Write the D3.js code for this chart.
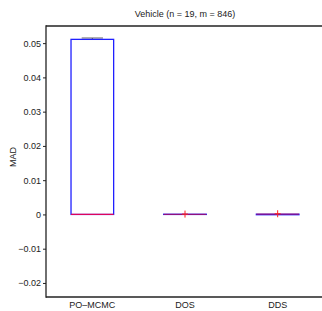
<!DOCTYPE html>
<head>
	<meta charset="utf-8">
	<title>Vehicle MAD</title>
	<style>
		body { margin: 0; background: #fff; }
		text { font-family: "Liberation Sans Narrow", "Liberation Sans", Arial, sans-serif; font-size: 9px; fill: #222; }
		.axis path, .axis line { stroke: #222; }
	</style>
</head>
<body>
<script src="https://d3js.org/d3.v7.min.js"></script>
<script>

// data
var categories = ["PO\u2013MCMC", "DOS", "DDS"];
var q1 = [0, 0, -0.00008];
var medians = [0, 0.00003, 0.00008];
var q3 = [0.0511, 0.00006, 0.00008];
var whiskerHigh = [0.0515, 0.00006, 0.00008];
var outliers = [[], [0.0001], [0.0002]];
var yTicks = [-0.02, -0.01, 0, 0.01, 0.02, 0.03, 0.04, 0.05];

var width = 322, height = 311;
var margin = {left: 46, top: 26, right: -2, bottom: 14};

var svg = d3.select("body").append("svg")
	.attr("width", width)
	.attr("height", height);

var x = d3.scaleLinear().domain([0.5, 3.5]).range([margin.left, width - margin.right]);
var y = d3.scaleLinear().domain([-0.0241, 0.055]).range([height - margin.bottom, margin.top]);

var boxW = 0.46;

// axes frame (right side falls outside the picture)
var frame = svg.append("g").attr("stroke", "#222").attr("stroke-width", 1.3);
frame.append("line").attr("x1", x(0.5)).attr("x2", width).attr("y1", y(0.055)).attr("y2", y(0.055));
frame.append("line").attr("x1", x(0.5)).attr("x2", width).attr("y1", y(-0.0241)).attr("y2", y(-0.0241));
frame.append("line").attr("x1", x(0.5)).attr("x2", x(0.5)).attr("y1", y(0.055) - 0.65).attr("y2", y(-0.0241) + 0.65);

var yAxis = svg.append("g")
	.attr("class", "axis")
	.attr("transform", "translate(" + x(0.5) + ",0)")
	.call(d3.axisLeft(y).tickValues(yTicks).tickSize(3).tickPadding(2)
		.tickFormat(function(d) { return d == 0 ? "0" : d3.format(".2f")(d).replace("-", "\u2212"); }));
yAxis.select(".domain").remove();
yAxis.selectAll("text").style("font-size", "9px");

var xAxis = svg.append("g")
	.attr("transform", "translate(0," + (height - margin.bottom) + ")");
xAxis.selectAll("text").data(categories).enter().append("text")
	.attr("x", function(d, i) { return x(i + 1); })
	.attr("y", 11)
	.attr("text-anchor", "middle")
	.text(function(d) { return d; });

svg.append("text")
	.attr("x", (x(0.5) + x(3.5)) / 2)
	.attr("y", 17)
	.attr("text-anchor", "middle")
	.text("Vehicle (n = 19, m = 846)");

svg.append("text")
	.attr("transform", "translate(16,157) rotate(-90)")
	.attr("text-anchor", "middle")
	.text("MAD");

// boxes
var g = svg.append("g");
categories.forEach(function(c, i) {
	var cx = x(i + 1);
	var half = (x(boxW / 2) - x(0));
	// whiskers
	g.append("line").attr("x1", cx).attr("x2", cx).attr("y1", y(q3[i])).attr("y2", y(whiskerHigh[i]))
		.attr("stroke", "#444").attr("stroke-dasharray", "3,2");
	if (i == 0) {
		g.append("line").attr("x1", cx - half / 2).attr("x2", cx + half / 2)
			.attr("y1", y(whiskerHigh[i])).attr("y2", y(whiskerHigh[i]))
			.attr("stroke", "#666").attr("stroke-width", 1);
	}
	g.append("rect")
		.attr("x", cx - half).attr("width", half * 2)
		.attr("y", y(q3[i])).attr("height", Math.max(0, y(q1[i]) - y(q3[i])))
		.attr("fill", "none").attr("stroke", "#2020ff").attr("stroke-width", 1.3);
	g.append("line").attr("x1", cx - half).attr("x2", cx + half)
		.attr("y1", y(medians[i])).attr("y2", y(medians[i]))
		.attr("stroke", i == 0 ? "#ff0040" : "#ff0000").attr("stroke-width", 1.3)
		.attr("stroke-opacity", i == 0 ? 0.85 : 0.5);
	outliers[i].forEach(function(v) {
		g.append("path")
			.attr("d", "M" + (cx - 3) + "," + y(v) + "h6M" + cx + "," + (y(v) - 3.5) + "v7")
			.attr("stroke", "#ff2020").attr("stroke-width", 1);
	});
});

</script>
</body>
</html>
